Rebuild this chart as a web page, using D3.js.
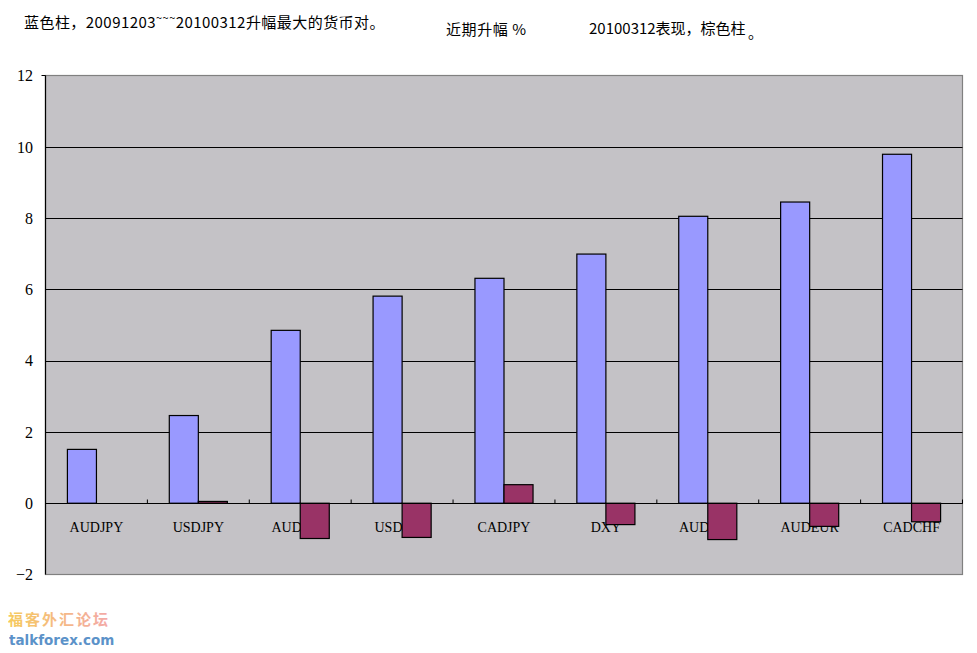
<!DOCTYPE html>
<html><head><meta charset="utf-8">
<script src="https://cdn.jsdelivr.net/npm/d3@7"></script>
<style>body{margin:0;background:#fff}svg{display:block}</style>
</head><body>
<svg id="c" width="977" height="653"></svg>
<script>
const categories = ["AUDJPY","USDJPY","AUDCHF","USDCHF","CADJPY","DXY","AUDGBP","AUDEUR","CADCHF"];
const blueValues = [1.51,2.46,4.85,5.81,6.31,6.99,8.05,8.45,9.79];
const brownValues = [0,0.05,-0.99,-0.96,0.52,-0.60,-1.02,-0.65,-0.52];
const yTicks = [-2,0,2,4,6,8,10,12];
const seriesNames = ["blue","brown"];
const colors = {blue:"#9999FF", brown:"#993366"};

const svg = d3.select("#c");
const L = 45.5, R = 962.5, T = 75.5, B = 574.5;
const y = d3.scaleLinear().domain([-2,12]).range([B,T]);
const x0 = d3.scaleBand().domain(categories).range([L,R]).padding(0);
const bw = x0.bandwidth();
const x1 = d3.scaleBand().domain(seriesNames).range([bw*0.215, bw*0.785]).padding(0);

svg.append("rect").attr("x",L).attr("y",T).attr("width",R-L).attr("height",B-T)
  .attr("fill","#C4C2C6").attr("stroke","#808080").attr("stroke-width",1.2);

svg.append("g").selectAll("line").data(yTicks.filter(d=>d>-2 && d<12)).join("line")
  .attr("x1",L).attr("x2",R).attr("y1",d=>Math.round(y(d))+0.5).attr("y2",d=>Math.round(y(d))+0.5)
  .attr("stroke","#000").attr("stroke-width",1.2);

svg.append("line").attr("x1",L).attr("x2",L).attr("y1",T).attr("y2",B).attr("stroke","#000").attr("stroke-width",1.2);
svg.append("line").attr("x1",L-4).attr("x2",L).attr("y1",T).attr("y2",T).attr("stroke","#000");

svg.append("g").selectAll("text").data(yTicks).join("text")
  .attr("x",33).attr("y",d=>y(d)).attr("dy","0.36em").attr("text-anchor","end")
  .attr("font-family","Liberation Serif, serif").attr("font-size",16).attr("fill","#000")
  .text(d=>d===-2?"\u22122":d);

const y0 = Math.round(y(0))+0.5;
svg.append("g").selectAll("text").data(categories).join("text")
  .attr("x",d=>x0(d)+bw/2).attr("y",y0+28).attr("text-anchor","middle")
  .attr("font-family","Liberation Serif, serif").attr("font-size",14).attr("fill","#000")
  .text(d=>d);

svg.append("g").selectAll("line").data(categories.slice(1).map(c=>x0(c)).concat([R])).join("line")
  .attr("x1",d=>d).attr("x2",d=>d).attr("y1",y0-4).attr("y2",y0).attr("stroke","#000");

const groups = svg.append("g").selectAll("g").data(categories).join("g")
  .attr("transform",d=>`translate(${x0(d)},0)`);
groups.selectAll("rect").data((d,i)=>[{k:"blue",v:blueValues[i]},{k:"brown",v:brownValues[i]}].filter(e=>e.v!==0)).join("rect")
  .attr("x",d=>x1(d.k)).attr("width",x1.bandwidth())
  .attr("y",d=>Math.min(y(d.v),y(0))).attr("height",d=>Math.abs(y(d.v)-y(0)))
  .attr("fill",d=>colors[d.k]).attr("stroke","#000").attr("stroke-width",1.2);

svg.append("line").attr("x1",L).attr("x2",R).attr("y1",y0).attr("y2",y0).attr("stroke","#000").attr("stroke-width",1.2);

const cjk = "'Noto Sans CJK SC', sans-serif";
const t1 = svg.append("text").attr("x",24).attr("y",28).attr("font-family",cjk).attr("font-size",15)
  .attr("letter-spacing","0.45px").attr("fill","#000");
t1.append("tspan").text("蓝色柱，20091203");
t1.append("tspan").attr("font-size",11).attr("dy",-6).text("~~~");
t1.append("tspan").attr("dy",6).text("20100312升幅最大的货币对。");
svg.append("text").attr("x",446).attr("y",35).attr("font-family",cjk).attr("font-size",15).attr("fill","#000")
  .attr("letter-spacing","0.6px").text("近期升幅 %");
svg.append("text").attr("x",589).attr("y",34).attr("font-family",cjk).attr("font-size",15).attr("fill","#000").text("20100312表现，棕色柱");
svg.append("text").attr("x",748).attr("y",38).attr("font-family",cjk).attr("font-size",15).attr("fill","#000").text("。");

const grad = svg.append("defs").append("linearGradient").attr("id","wg").attr("x1","0").attr("x2","1");
grad.append("stop").attr("offset","0").attr("stop-color","#F5C242");
grad.append("stop").attr("offset","1").attr("stop-color","#F29A9A");
svg.append("text").attr("x",8).attr("y",625).attr("font-family",cjk).attr("font-weight","bold").attr("font-size",15)
  .attr("letter-spacing","2px").attr("fill","url(#wg)").attr("opacity",0.85).text("福客外汇论坛");
svg.append("text").attr("x",9).attr("y",645).attr("font-family","'DejaVu Sans', sans-serif").attr("font-weight","bold").attr("font-size",13.5)
  .attr("fill","#3F7FC0").attr("opacity",0.85).text("talkforex.com");
</script>
</body></html>
